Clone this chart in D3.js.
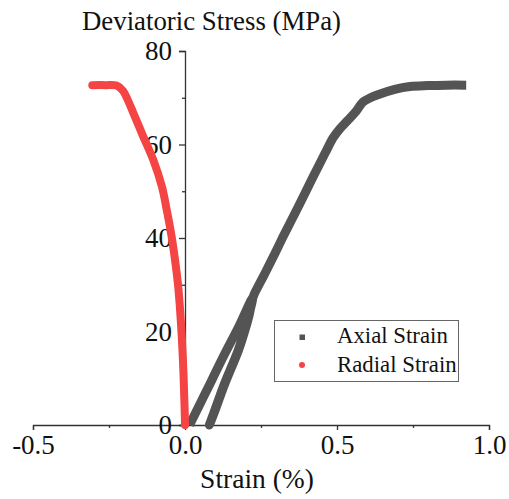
<!DOCTYPE html>
<html>
<head>
<meta charset="utf-8">
<script src="https://cdn.jsdelivr.net/npm/d3@7"></script>
<style>
  html, body { margin: 0; padding: 0; background: #fff; }
  svg { display: block; }
  text { font-family: "Liberation Serif", "Times New Roman", serif; fill: #111; }
</style>
</head>
<body>
<svg id="chart" width="509" height="499"></svg>
<script>
// Axial strain (%) vs deviatoric stress (MPa): loading, unloading, reloading to peak
const axialStrain = [0.015, 0.070, 0.125, 0.175, 0.222,
                     0.210, 0.195, 0.175, 0.150, 0.125, 0.100, 0.080,
                     0.101, 0.126, 0.151, 0.176, 0.196, 0.211, 0.224, 0.245,
                     0.269, 0.295, 0.322, 0.350, 0.378, 0.410, 0.444, 0.466, 0.487,
                     0.510, 0.533, 0.559, 0.586, 0.610, 0.632, 0.690, 0.740, 0.800, 0.860, 0.925];
const axialStress = [0.0, 7.2, 14.5, 20.8, 27.1,
                     23.5, 20.0, 16.0, 12.0, 8.0, 3.5, 0.0,
                     3.5, 8.0, 12.0, 16.0, 20.0, 23.5, 27.4, 30.2,
                     33.2, 36.6, 40.2, 43.8, 47.4, 51.6, 56.0, 58.8, 61.4,
                     63.4, 65.0, 66.8, 69.1, 70.0, 70.6, 71.8, 72.4, 72.6, 72.7, 72.7];

// Radial strain (%) vs deviatoric stress (MPa)
const radialStrain = [0.000, -0.001, -0.003, -0.005, -0.011, -0.023, -0.044, -0.060,
                      -0.076, -0.105, -0.138, -0.171, -0.188, -0.204, -0.225, -0.260, -0.305];
const radialStress = [0.0, 3.0, 7.0, 11.0, 19.3, 30.0, 40.3, 46.0,
                      51.0, 56.8, 61.8, 66.9, 69.5, 71.5, 72.6, 72.7, 72.7];

const xMajor = [-0.5, 0.0, 0.5, 1.0];
const xTickLabels = ["-0.5", "0.0", "0.5", "1.0"];
const xMinor = [-0.25, 0.25, 0.75];
const yMajor = [0, 20, 40, 60, 80];
const yTickLabels = ["0", "20", "40", "60", "80"];
const yMinor = [10, 30, 50, 70];

const seriesNames = ["Axial Strain", "Radial Strain"];
const seriesColors = ["#545454", "#f54444"];

const svg = d3.select("#chart");

const x = d3.scaleLinear().domain([-0.5, 1.0]).range([33, 489]);
const y = d3.scaleLinear().domain([0, 80]).range([425, 51]);
const axisColor = "#333";
const serif = '"Liberation Serif", "Times New Roman", serif';

// x axis (crosses at stress = 0)
const xAxisG = svg.append("g").attr("transform", `translate(0,${y(0)})`);
xAxisG.call(d3.axisBottom(x).tickValues(xMajor).tickSizeOuter(0).tickSize(5)
  .tickPadding(5).tickFormat((d, i) => xTickLabels[i]));
xAxisG.append("g").call(d3.axisBottom(x).tickValues(xMinor).tickSize(3).tickFormat(""))
  .select(".domain").remove();

// y axis (crosses at strain = 0)
const yAxisG = svg.append("g").attr("transform", `translate(${x(0)},0)`);
yAxisG.call(d3.axisLeft(y).tickValues(yMajor).tickSizeOuter(0).tickSize(6)
  .tickPadding(7).tickFormat((d, i) => yTickLabels[i]));
yAxisG.append("g").call(d3.axisLeft(y).tickValues(yMinor).tickSize(3).tickFormat(""))
  .select(".domain").remove();

svg.selectAll(".domain").attr("stroke", axisColor).attr("stroke-width", 1.3);
svg.selectAll(".tick line").attr("stroke", axisColor).attr("stroke-width", 1.3);
svg.selectAll(".tick text")
  .style("font-family", serif)
  .style("font-size", "27px").attr("fill", "#111");
xAxisG.selectAll(".tick text").attr("dy", "0.7em");

// Curves
const line = d3.line().x(d => x(d[0])).y(d => y(d[1])).curve(d3.curveCatmullRom.alpha(0.5));
const axialPts = axialStrain.map((s, i) => [s, axialStress[i]]);
const radialPts = radialStrain.map((s, i) => [s, radialStress[i]]);

svg.append("path").datum(axialPts).attr("d", line)
  .attr("fill", "none").attr("stroke", seriesColors[0]).attr("stroke-width", 9)
  .attr("stroke-linejoin", "round").attr("stroke-linecap", "butt");
svg.append("path").datum(radialPts).attr("d", line)
  .attr("fill", "none").attr("stroke", seriesColors[1]).attr("stroke-width", 8)
  .attr("stroke-linejoin", "round").attr("stroke-linecap", "round");

// Titles
svg.append("text").attr("x", 82).attr("y", 30).style("font-size", "26.8px")
  .text("Deviatoric Stress (MPa)");
svg.append("text").attr("x", 257).attr("y", 488).attr("text-anchor", "middle")
  .style("font-size", "27.5px").text("Strain (%)");

// Legend
const lg = svg.append("g");
lg.append("rect").attr("x", 274.5).attr("y", 320.5).attr("width", 184).attr("height", 61)
  .attr("fill", "#fff").attr("stroke", "#666").attr("stroke-width", 1);
lg.append("rect").attr("x", 299.5).attr("y", 334.5).attr("width", 5.5).attr("height", 5.5)
  .attr("fill", seriesColors[0]);
lg.append("circle").attr("cx", 302).attr("cy", 365).attr("r", 3).attr("fill", seriesColors[1]);
lg.append("text").attr("x", 337).attr("y", 343).style("font-size", "22.8px").text(seriesNames[0]);
lg.append("text").attr("x", 337).attr("y", 372).style("font-size", "22.8px").text(seriesNames[1]);
</script>
</body>
</html>
